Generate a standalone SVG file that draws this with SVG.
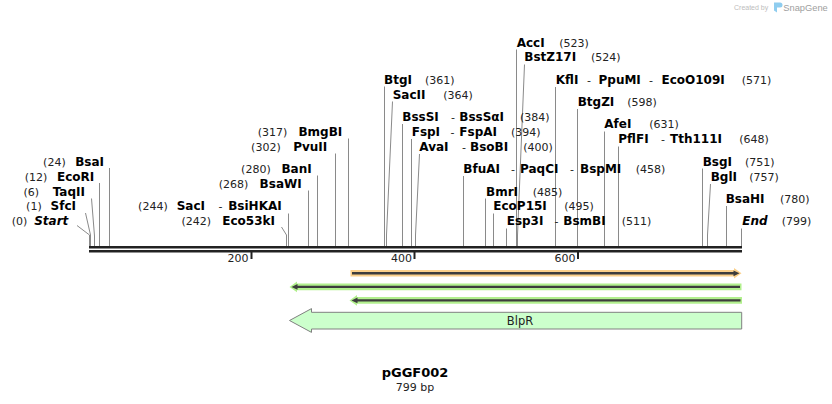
<svg xmlns="http://www.w3.org/2000/svg" width="832" height="404" viewBox="0 0 832 404">
<style>
.n{font-family:"DejaVu Sans",Verdana,sans-serif;font-weight:bold;font-size:12px;fill:#000}
.ni{font-family:"DejaVu Sans",Verdana,sans-serif;font-weight:bold;font-style:italic;font-size:12px;fill:#000}
.p{font-family:"DejaVu Sans",Verdana,sans-serif;font-size:11px;fill:#222}
.e{text-anchor:end}
.m{text-anchor:middle}
.ln{fill:none;stroke:#8a8a8a;stroke-width:1}
.bb{fill:#222}
.dk{stroke:#3d3d3d;stroke-width:2.4}
.dkf{fill:#3d3d3d}
</style>
<rect width="832" height="404" fill="#fff"/>
<g id="watermark">
<text x="734" y="10" font-family="Liberation Sans,Arial,sans-serif" font-size="7" fill="#bdbdbd">Created by</text>
<path d="M774,2.5 h6 a2.5,2.5 0 0 1 0,5 h-3 v5 l-3,-2 Z" fill="#8fcdef"/>
<text x="783.3" y="11" font-family="Liberation Sans,Arial,sans-serif" font-size="9.3" fill="#9e9e9e">SnapGene</text>
</g>
<g id="connectors">
<polyline class="ln" points="77,225.5 89.5,235 89.5,246"/>
<polyline class="ln" points="85.5,213 90.5,235 90.5,246"/>
<polyline class="ln" points="91.5,198.5 94.5,236 94.5,246"/>
<line class="ln" x1="99.5" y1="183" x2="99.5" y2="246"/>
<line class="ln" x1="109.5" y1="168" x2="109.5" y2="246"/>
<polyline class="ln" points="281.5,227 286.5,235 286.5,246"/>
<line class="ln" x1="288.5" y1="213.5" x2="288.5" y2="246"/>
<line class="ln" x1="308.5" y1="190.5" x2="308.5" y2="246"/>
<line class="ln" x1="317.5" y1="175.5" x2="317.5" y2="246"/>
<line class="ln" x1="335.5" y1="153.5" x2="335.5" y2="246"/>
<line class="ln" x1="348.5" y1="138.5" x2="348.5" y2="246"/>
<line class="ln" x1="384.5" y1="86.5" x2="384.5" y2="246"/>
<polyline class="ln" points="392.5,101.5 386.5,235 386.5,246"/>
<line class="ln" x1="402.5" y1="124" x2="402.5" y2="246"/>
<line class="ln" x1="411.5" y1="139" x2="411.5" y2="246"/>
<polyline class="ln" points="419.5,154 415.5,235 415.5,246"/>
<line class="ln" x1="463.5" y1="176" x2="463.5" y2="246"/>
<line class="ln" x1="485.5" y1="198.5" x2="485.5" y2="246"/>
<line class="ln" x1="493.5" y1="213.5" x2="493.5" y2="246"/>
<line class="ln" x1="506.5" y1="228.5" x2="506.5" y2="246"/>
<line class="ln" x1="516.5" y1="49.5" x2="516.5" y2="246"/>
<polyline class="ln" points="524.5,64.5 517.5,235 517.5,246"/>
<line class="ln" x1="555.5" y1="87" x2="555.5" y2="246"/>
<line class="ln" x1="577.5" y1="109" x2="577.5" y2="246"/>
<line class="ln" x1="604.5" y1="131.5" x2="604.5" y2="246"/>
<line class="ln" x1="618.5" y1="146.5" x2="618.5" y2="246"/>
<line class="ln" x1="702.5" y1="168.5" x2="702.5" y2="246"/>
<polyline class="ln" points="710.5,184 707.5,235 707.5,246"/>
<line class="ln" x1="726.5" y1="206" x2="726.5" y2="246"/>
<line class="ln" x1="741.5" y1="228.5" x2="741.5" y2="246"/>
</g>
<g id="backbone">
<rect class="bb" x="89" y="246" width="653" height="2.5"/>
<rect class="bb" x="89" y="250" width="653" height="2.5"/>
<rect class="bb" x="250.5" y="252" width="2" height="7"/>
<rect class="bb" x="413.5" y="252" width="2" height="7"/>
<rect class="bb" x="577" y="252" width="2" height="7"/>
<text class="p e" x="248.5" y="262">200</text>
<text class="p e" x="412" y="262">400</text>
<text class="p e" x="575.5" y="262">600</text>
</g>
<g id="start"><text class="p e" x="27.3" y="225.3">(0)</text><text class="ni e" x="68.3" y="225.3">Start</text></g>
<g id="SfcI"><text class="p e" x="41.7" y="210.4">(1)</text><text class="n e" x="76" y="210.4">SfcI</text></g>
<g id="TaqII"><text class="p e" x="39" y="195.5">(6)</text><text class="n e" x="85" y="195.5">TaqII</text></g>
<g id="EcoRI"><text class="p e" x="47.3" y="180.6">(12)</text><text class="n e" x="94.3" y="180.6">EcoRI</text></g>
<g id="BsaI"><text class="p e" x="65.7" y="165.7">(24)</text><text class="n e" x="104" y="165.7">BsaI</text></g>
<g id="Eco53kI"><text class="p e" x="211" y="225.3">(242)</text><text class="n e" x="275" y="225.3">Eco53kI</text></g>
<g id="SacI"><text class="p e" x="167.7" y="210.4">(244)</text><text class="n" x="176.7" y="210.4">SacI</text><text class="p m" x="220.5" y="210.4">-</text><text class="n e" x="281.7" y="210.4">BsiHKAI</text></g>
<g id="BsaWI"><text class="p e" x="248.3" y="188.05">(268)</text><text class="n e" x="301.7" y="188.05">BsaWI</text></g>
<g id="BanI"><text class="p e" x="270.7" y="173.15">(280)</text><text class="n e" x="311.7" y="173.15">BanI</text></g>
<g id="PvuII"><text class="p e" x="280.7" y="150.8">(302)</text><text class="n e" x="327.3" y="150.8">PvuII</text></g>
<g id="BmgBI"><text class="p e" x="287.3" y="135.9">(317)</text><text class="n e" x="342.3" y="135.9">BmgBI</text></g>
<g id="BtgI"><text class="n" x="384" y="83.75">BtgI</text><text class="p" x="425" y="83.75">(361)</text></g>
<g id="SacII"><text class="n" x="392.7" y="98.65">SacII</text><text class="p" x="443.3" y="98.65">(364)</text></g>
<g id="BssSI"><text class="n" x="402.3" y="121">BssSI</text><text class="p m" x="453" y="121">-</text><text class="n" x="459.3" y="121">BssSαI</text><text class="p" x="520" y="121">(384)</text></g>
<g id="FspI"><text class="n" x="411.7" y="135.9">FspI</text><text class="p m" x="452.5" y="135.9">-</text><text class="n" x="459.3" y="135.9">FspAI</text><text class="p" x="511" y="135.9">(394)</text></g>
<g id="AvaI"><text class="n" x="419.3" y="150.8">AvaI</text><text class="p m" x="464" y="150.8">-</text><text class="n" x="470" y="150.8">BsoBI</text><text class="p" x="523.3" y="150.8">(400)</text></g>
<g id="BfuAI"><text class="n" x="463.3" y="173.15">BfuAI</text><text class="p m" x="513" y="173.15">-</text><text class="n" x="520" y="173.15">PaqCI</text><text class="p m" x="572" y="173.15">-</text><text class="n" x="580" y="173.15">BspMI</text><text class="p" x="635.7" y="173.15">(458)</text></g>
<g id="BmrI"><text class="n" x="486" y="195.5">BmrI</text><text class="p" x="532.7" y="195.5">(485)</text></g>
<g id="EcoP15I"><text class="n" x="493.3" y="210.4">EcoP15I</text><text class="p" x="564.3" y="210.4">(495)</text></g>
<g id="Esp3I"><text class="n" x="506.7" y="225.3">Esp3I</text><text class="p m" x="556.5" y="225.3">-</text><text class="n" x="563.3" y="225.3">BsmBI</text><text class="p" x="621.7" y="225.3">(511)</text></g>
<g id="AccI"><text class="n" x="516.7" y="46.5">AccI</text><text class="p" x="559.3" y="46.5">(523)</text></g>
<g id="BstZ17I"><text class="n" x="524.3" y="61.4">BstZ17I</text><text class="p" x="591" y="61.4">(524)</text></g>
<g id="KflI"><text class="n" x="555.7" y="83.75">KflI</text><text class="p m" x="589" y="83.75">-</text><text class="n" x="598.5" y="83.75">PpuMI</text><text class="p m" x="651" y="83.75">-</text><text class="n" x="661.5" y="83.75">EcoO109I</text><text class="p" x="741.7" y="83.75">(571)</text></g>
<g id="BtgZI"><text class="n" x="577.7" y="106.1">BtgZI</text><text class="p" x="627.3" y="106.1">(598)</text></g>
<g id="AfeI"><text class="n" x="604.3" y="128.45">AfeI</text><text class="p" x="649.3" y="128.45">(631)</text></g>
<g id="PflFI"><text class="n" x="618.3" y="143.35">PflFI</text><text class="p m" x="663" y="143.35">-</text><text class="n" x="670" y="143.35">Tth111I</text><text class="p" x="739.3" y="143.35">(648)</text></g>
<g id="BsgI"><text class="n" x="702.7" y="165.7">BsgI</text><text class="p" x="745" y="165.7">(751)</text></g>
<g id="BglI"><text class="n" x="710.7" y="180.6">BglI</text><text class="p" x="749.3" y="180.6">(757)</text></g>
<g id="BsaHI"><text class="n" x="725.7" y="202.95">BsaHI</text><text class="p" x="780" y="202.95">(780)</text></g>
<g id="end"><text class="ni" x="742.3" y="225.3">End</text><text class="p" x="781.7" y="225.3">(799)</text></g>
<g id="primer-fwd">
<path d="M350.5,270 H734 V268 L741.5,273.3 L734,278.6 V276.6 H350.5 Z" fill="#fbd08a"/>
<line class="dk" x1="352" y1="273.3" x2="735" y2="273.3"/>
<path class="dkf" d="M733.5,270.4 L739.5,273.3 L733.5,276.2 Z"/>
</g>
<g id="primer-rev1">
<path d="M741.5,283.6 H297 V281.6 L289.5,286.9 L297,292.2 V290.2 H741.5 Z" fill="#b2f08e"/>
<line class="dk" x1="297" y1="286.9" x2="740" y2="286.9"/>
<path class="dkf" d="M297.5,284 L291.5,286.9 L297.5,289.8 Z"/>
</g>
<g id="primer-rev2">
<path d="M742,297 H357 V295 L349.5,300.4 L357,305.8 V303.8 H742 Z" fill="#b2f08e"/>
<line class="dk" x1="357" y1="300.4" x2="740.5" y2="300.4"/>
<path class="dkf" d="M357.5,297.5 L351.5,300.4 L357.5,303.3 Z"/>
</g>
<g id="BlpR">
<path d="M289.5,320.5 L311.5,308.6 V312.3 H741.7 V329 H311.5 V332.4 Z" fill="#ccffcc" stroke="#808080" stroke-width="1"/>
<text x="520" y="324.5" font-family="DejaVu Sans,Verdana,sans-serif" font-size="11.5" fill="#222" text-anchor="middle">BlpR</text>
</g>
<g id="title">
<text x="415" y="377" font-family="DejaVu Sans,Verdana,sans-serif" font-weight="bold" font-size="13" fill="#000" text-anchor="middle">pGGF002</text>
<text x="415" y="390.5" font-family="DejaVu Sans,Verdana,sans-serif" font-size="11" fill="#222" text-anchor="middle">799 bp</text>
</g>
</svg>
